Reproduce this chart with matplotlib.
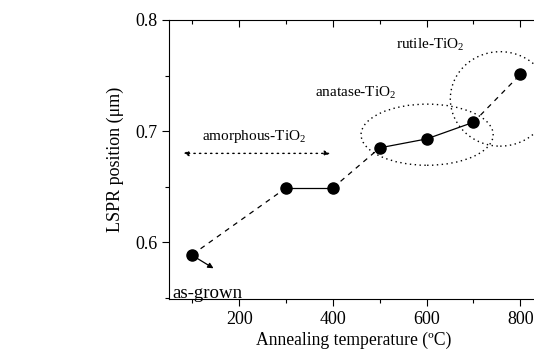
import matplotlib
matplotlib.use("Agg")
import matplotlib.pyplot as plt
from matplotlib.patches import Ellipse
from matplotlib.ticker import MultipleLocator, FormatStrFormatter
from matplotlib.lines import TICKDOWN

plt.rcParams['font.family'] = ['Liberation Serif', 'DejaVu Serif']
plt.rcParams['mathtext.fontset'] = 'custom'
plt.rcParams['mathtext.rm'] = 'Liberation Serif'

temps = [100, 300, 400, 500, 600, 700, 800]
lspr = [0.589, 0.649, 0.649, 0.685, 0.693, 0.708, 0.751]
# line style of each segment between consecutive points
seg_styles = ['dashed', 'solid', 'dashed', 'solid', 'solid', 'dashed']

xticks = [200, 400, 600, 800]
yticks = [0.6, 0.7, 0.8]

fig = plt.figure(figsize=(5.34, 3.49), dpi=100)
ax = fig.add_axes([0.3165, 0.1433, 0.693, 0.7994])

for i, st in enumerate(seg_styles):
    if st == 'dashed':
        ax.plot(temps[i:i+2], lspr[i:i+2], color='black', lw=0.9,
                ls=(0, (4, 4)), zorder=2)
    else:
        ax.plot(temps[i:i+2], lspr[i:i+2], color='black', lw=0.9,
                ls='-', zorder=2)
ax.plot(temps, lspr, 'o', color='black', ms=8, zorder=3)

ax.set_xlim(50, 840)
ax.set_ylim(0.549, 0.8)
ax.set_xticks(xticks)
ax.set_yticks(yticks)
ax.xaxis.set_minor_locator(MultipleLocator(100))
ax.yaxis.set_minor_locator(MultipleLocator(0.05))
ax.yaxis.set_major_formatter(FormatStrFormatter('%.1f'))

ax.tick_params(axis='both', which='major', labelsize=13, width=0.8, length=5, direction='out')
ax.tick_params(axis='both', which='minor', width=0.8, length=3, direction='out')
ax.tick_params(axis='x', which='both', top=True)
ax.spines['right'].set_visible(False)
for s in ['left', 'bottom', 'top']:
    ax.spines[s].set_linewidth(0.8)

# top ticks point inward
for t in ax.xaxis.get_major_ticks() + ax.xaxis.get_minor_ticks():
    t.tick2line.set_marker(TICKDOWN)

ax.set_xlabel('Annealing temperature (ºC)', fontsize=12.7, labelpad=3)
ax.set_ylabel('LSPR position (μm)', fontsize=13, labelpad=8)

# annotations
ax.annotate('', xy=(80, 0.680), xytext=(394, 0.680),
            arrowprops=dict(arrowstyle='<|-|>', ls=(0, (1, 3)), lw=1.0, color='black',
                            mutation_scale=8, shrinkA=0, shrinkB=0))
ax.text(121, 0.695, 'amorphous-TiO$_2$', fontsize=11, va='center', ha='left')
ax.text(362, 0.735, 'anatase-TiO$_2$', fontsize=11, va='center', ha='left')
ax.text(535, 0.778, 'rutile-TiO$_2$', fontsize=11, va='center', ha='left')
ax.text(57, 0.554, 'as-grown', fontsize=13.6, va='center', ha='left')
ax.annotate('', xy=(145, 0.5766), xytext=(110, 0.5856),
            arrowprops=dict(arrowstyle='-|>', lw=0.9, color='black',
                            mutation_scale=8, shrinkA=0, shrinkB=0))

ax.add_patch(Ellipse((601, 0.6968), 282, 0.055, fill=False, ls=(0, (1, 2.5)), lw=1.0,
                     ec='black'))
ax.add_patch(Ellipse((757, 0.729), 213, 0.085, fill=False, ls=(0, (1, 2.5)), lw=1.0,
                     ec='black'))

fig.savefig('out.png', dpi=100)
